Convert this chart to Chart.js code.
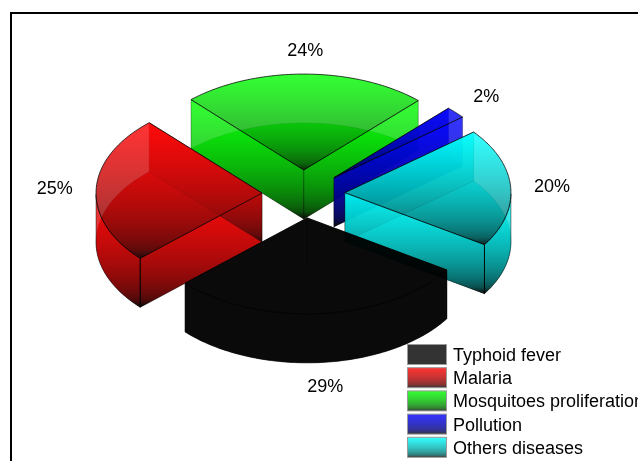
<!DOCTYPE html>
<html>
<head>
<meta charset="utf-8">
<title>Causes of disease</title>
<script src="https://cdn.jsdelivr.net/npm/chart.js@4"></script>
<style>
    html, body { margin: 0; padding: 0; background: #fff; overflow: hidden; }
    #wrap { position: absolute; left: 0; top: 0; width: 638px; height: 461px; }
    #frame { position: absolute; left: 10px; top: 12px; width: 700px; height: 600px; border: 2px solid #000; }
</style>
</head>
<body>
<div id="wrap">
    <div id="frame"></div>
    <canvas id="graph" width="638" height="461"></canvas>
</div>
<script>
const categories = ['Typhoid fever', 'Malaria', 'Mosquitoes proliferation', 'Pollution', 'Others diseases'];
const shares = [29, 25, 24, 2, 20];
const percentLabels = ['29%', '25%', '24%', '2%', '20%'];
const sliceColors = [[0, 0, 0], [255, 0, 0], [0, 255, 0], [0, 0, 255], [0, 255, 255]];
// back to front, so nearer slices cover the ones behind
const paintOrder = [2, 3, 4, 1, 0];

const tilt = 0.578;      // vertical squash of the pie
const depth = 49;        // prism height in px
const explode = 41.5;
const fontName = '"Liberation Sans", Arial, sans-serif';

// colour to black, gamma corrected, at 80% opacity
function faceGradient(ctx, color, y0, y1) {
    const g = ctx.createLinearGradient(0, y0, 0, y1);
    for (let k = 0; k <= 16; k++) {
        const t = k / 16;
        const f = Math.pow(1 - t, 1 / 2.2);
        g.addColorStop(t, `rgba(${color.map(c => Math.round(c * f)).join(',')},0.8)`);
    }
    return g;
}

function fillFace(ctx, points, color, edge) {
    const ys = points.map(p => p[1]);
    ctx.beginPath();
    points.forEach((p, i) => i ? ctx.lineTo(p[0], p[1]) : ctx.moveTo(p[0], p[1]));
    ctx.closePath();
    ctx.fillStyle = faceGradient(ctx, color, Math.min(...ys), Math.max(...ys));
    ctx.fill();
    if (edge) {
        ctx.strokeStyle = edge;
        ctx.lineWidth = 1;
        ctx.stroke();
    }
}

const prismPie = {
    id: 'prismPie',
    beforeDatasetsDraw(chart) {
        const ctx = chart.ctx;
        const arcs = chart.getDatasetMeta(0).data;

        paintOrder.forEach(i => {
            const arc = arcs[i];
            const mid = (arc.startAngle + arc.endAngle) / 2;
            const cx = arc.x + Math.cos(mid) * arc.options.offset;
            const cy = arc.y + Math.sin(mid) * arc.options.offset * tilt;
            const project = a => [cx + Math.cos(a) * arc.outerRadius, cy + Math.sin(a) * arc.outerRadius * tilt];

            // rim points, apex first
            const rim = [];
            for (let k = 0; k <= 90; k++) {
                rim.push(project(arc.startAngle + (arc.endAngle - arc.startAngle) * k / 90));
            }
            const top = [[cx, cy], ...rim];
            const down = p => [p[0], p[1] + depth];
            const first = rim[0];
            const last = rim[rim.length - 1];
            const color = sliceColors[i];
            const softEdge = 'rgba(0,0,0,0.3)';

            // bottom face
            fillFace(ctx, top.map(down), color, 'rgba(0,0,0,0.2)');

            // the two cut walls
            fillFace(ctx, [[cx, cy], first, down(first), [cx, cy + depth]], color, softEdge);
            fillFace(ctx, [[cx, cy], last, down(last), [cx, cy + depth]], color, softEdge);

            // rim wall, only the part that faces the viewer
            const front = rim.filter(p => p[1] >= cy);
            if (front.length > 1) {
                fillFace(ctx, [...front, ...front.map(down).reverse()], color, 'rgba(0,0,0,0.45)');
            }

            // top face
            fillFace(ctx, top, color, 'rgba(0,0,0,0.75)');

            // corner lines where a cut wall meets the rim wall
            ctx.strokeStyle = 'rgba(0,0,0,0.8)';
            [first, last].filter(p => p[1] >= cy).forEach(p => {
                ctx.beginPath();
                ctx.moveTo(p[0], p[1]);
                ctx.lineTo(p[0], p[1] + depth);
                ctx.stroke();
            });
        });

        // values around the pie
        ctx.fillStyle = '#000';
        ctx.font = '18px ' + fontName;
        ctx.textAlign = 'center';
        ctx.textBaseline = 'middle';
        arcs.forEach((arc, i) => {
            const mid = (arc.startAngle + arc.endAngle) / 2;
            const r = arc.options.offset + arc.outerRadius * 1.25;
            const sin = Math.sin(mid);
            const y = arc.y + sin * r * tilt + (sin > 0.5 ? depth : 0);
            ctx.fillText(percentLabels[i], arc.x + Math.cos(mid) * r, y + 1);
        });

        // legend
        ctx.textAlign = 'left';
        categories.forEach((name, i) => {
            const y = 344 + i * 23.2;
            ctx.fillStyle = faceGradient(ctx, sliceColors[i], y, y + 20);
            ctx.fillRect(407.5, y + 0.5, 39, 20);
            ctx.strokeStyle = '#9a9a9a';
            ctx.lineWidth = 1;
            ctx.strokeRect(407.5, y + 0.5, 39, 20);
            ctx.fillStyle = '#000';
            ctx.fillText(name, 453, y + 12);
        });

        return false;
    }
};

new Chart(document.getElementById('graph').getContext('2d'), {
    type: 'pie',
    data: {
        labels: categories,
        datasets: [{
            data: shares,
            offset: explode,
            borderWidth: 0
        }]
    },
    options: {
        responsive: false,
        animation: false,
        rotation: 122.8,
        // centres the pie at (303.5, 194) with a 166px radius
        layout: { padding: { left: 116.75, right: 147.75, top: 7.25, bottom: 80.25 } },
        plugins: {
            legend: { display: false },
            tooltip: { enabled: false }
        }
    },
    plugins: [prismPie]
});
</script>
</body>
</html>
